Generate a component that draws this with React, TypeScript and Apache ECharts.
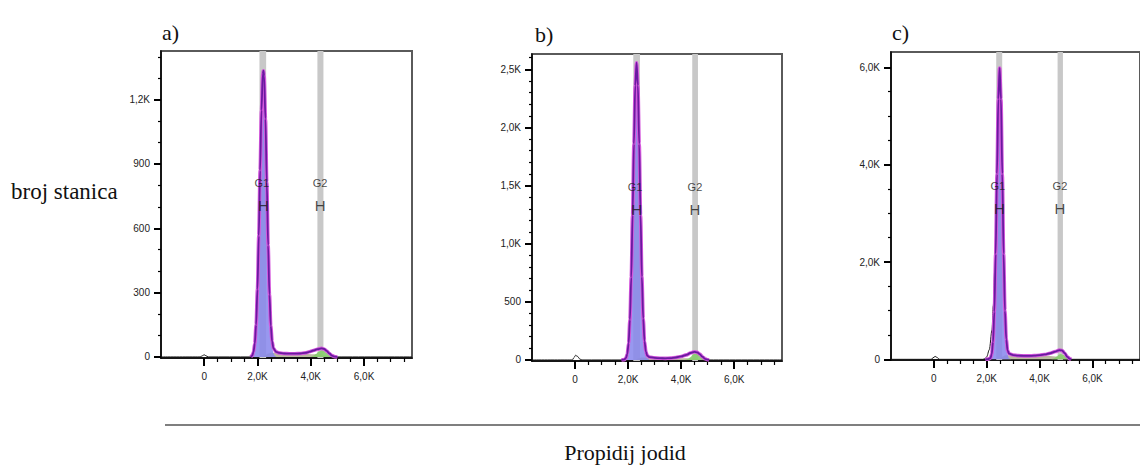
import React, { useEffect, useRef } from "react";
import * as echarts from "echarts";

const SANS = '"Liberation Sans", Arial, sans-serif';
const SERIF = '"Liberation Serif", "Times New Roman", serif';

// ---- shared x axis (propidium iodide) ----
const xMin = -1620;
const xMax = 7800;
const xTicks = [0, 2000, 4000, 6000];
const xTickLabels = ["0", "2,0K", "4,0K", "6,0K"];
const xMinorTicks = [500, 1000, 1500, 2500, 3000, 3500, 4500, 5000, 5500, 6500, 7000, 7500];

// ---- panel a ----
const aYTicks = [0, 300, 600, 900, 1200];
const aYTickLabels = ["0", "300", "600", "900", "1,2K"];
const aYMinorTicks = [100, 200, 400, 500, 700, 800, 1000, 1100, 1300, 1400];
const aFit = [[1750, 0], [1800, 6], [1850, 22], [1900, 62], [1950, 150], [2000, 315], [2050, 565], [2100, 870], [2150, 1150], [2200, 1320], [2225, 1335], [2250, 1310], [2300, 1110], [2350, 815], [2400, 520], [2450, 290], [2500, 145], [2550, 72], [2600, 40], [2700, 24], [2800, 19], [3000, 16], [3200, 15], [3400, 15], [3600, 16], [3800, 19], [3950, 24], [4100, 30], [4250, 36], [4400, 40], [4500, 37], [4600, 28], [4700, 16], [4800, 6], [4900, 1], [5000, 0]];
const aRawLeft = [[-1620, 0], [-150, 0], [-60, 6], [0, 10], [60, 6], [150, 0]];
const aRawRight = [[7800, 0]];
const aG1 = [[1750, 0], [1800, 6], [1850, 22], [1900, 62], [1950, 150], [2000, 315], [2050, 565], [2100, 870], [2150, 1150], [2200, 1320], [2225, 1335], [2250, 1310], [2300, 1105], [2350, 805], [2400, 505], [2450, 270], [2500, 125], [2550, 52], [2600, 18], [2650, 5], [2700, 0]];
const aS = [[2200, 0], [2300, 8], [2400, 16], [2500, 20], [2700, 19], [3000, 16], [3400, 14], [3800, 14], [4200, 12], [4500, 8], [4700, 3], [4800, 0]];
const aG2 = [[4000, 0], [4100, 6], [4200, 14], [4300, 24], [4400, 31], [4500, 28], [4600, 19], [4700, 9], [4800, 3], [4900, 0]];
const aBands = [[2075, 2326], [4250, 4476]];
const aGateTextX = [2165, 4353];
const aGateHX = [2225, 4353];
const aGateTextY = 812;
const aGateHY = 708;

// ---- panel b ----
const bYTicks = [0, 500, 1000, 1500, 2000, 2500];
const bYTickLabels = ["0", "500", "1,0K", "1,5K", "2,0K", "2,5K"];
const bYMinorTicks = [100, 200, 300, 400, 600, 700, 800, 900, 1100, 1200, 1300, 1400, 1600, 1700, 1800, 1900, 2100, 2200, 2300, 2400, 2600];
const bFit = [[1750, 0], [1850, 3], [1920, 15], [1970, 51], [2020, 143], [2070, 346], [2120, 711], [2170, 1245], [2220, 1857], [2270, 2360], [2320, 2557], [2370, 2360], [2420, 1857], [2470, 1245], [2520, 715], [2570, 355], [2620, 160], [2670, 72], [2720, 38], [2800, 25], [3000, 18], [3200, 15], [3400, 14], [3600, 16], [3800, 21], [4000, 30], [4200, 44], [4350, 60], [4500, 70], [4600, 66], [4700, 50], [4800, 28], [4900, 10], [5000, 2], [5050, 0]];
const bRawLeft = [[-1620, 0], [-100, 0], [-40, 20], [20, 40], [100, 30], [180, 8], [260, 0]];
const bRawRight = [[7800, 0]];
const bG1 = [[1800, 0], [1850, 3], [1920, 15], [1970, 51], [2020, 143], [2070, 346], [2120, 711], [2170, 1245], [2220, 1857], [2270, 2360], [2320, 2557], [2370, 2360], [2420, 1857], [2470, 1245], [2520, 711], [2570, 346], [2620, 143], [2670, 51], [2720, 15], [2800, 0]];
const bS = [[2300, 0], [2400, 14], [2500, 22], [2700, 21], [3000, 17], [3400, 14], [3800, 15], [4200, 15], [4500, 11], [4800, 4], [4950, 0]];
const bG2 = [[4150, 0], [4250, 8], [4350, 24], [4450, 46], [4520, 57], [4600, 53], [4700, 38], [4800, 20], [4900, 7], [5000, 0]];
const bBands = [[2196, 2448], [4418, 4633]];
const bGateTextX = [2260, 4520];
const bGateHX = [2324, 4520];
const bGateTextY = 1490;
const bGateHY = 1296;

// ---- panel c ----
const cYTicks = [0, 2000, 4000, 6000];
const cYTickLabels = ["0", "2,0K", "4,0K", "6,0K"];
const cYMinorTicks = [500, 1000, 1500, 2500, 3000, 3500, 4500, 5000, 5500];
const cFit = [[1950, 0], [2050, 5], [2140, 23], [2190, 102], [2240, 353], [2290, 977], [2340, 2164], [2390, 3809], [2440, 5347], [2490, 5988], [2540, 5347], [2590, 3809], [2640, 2164], [2690, 1000], [2740, 410], [2790, 180], [2850, 115], [3000, 88], [3200, 76], [3400, 70], [3600, 70], [3800, 75], [4000, 85], [4200, 100], [4400, 125], [4600, 160], [4750, 190], [4850, 182], [4950, 125], [5050, 52], [5150, 10], [5200, 0]];
const cRawLeft = [[-1620, 0], [-100, 0], [-30, 30], [50, 60], [130, 35], [220, 0], [1850, 0], [1920, 10], [2000, 50], [2100, 200], [2200, 600], [2250, 1100], [2300, 1800], [2350, 2800], [2400, 4000], [2450, 5200]];
const cRawRight = [[7800, 0]];
const cG1 = [[2050, 0], [2140, 23], [2190, 102], [2240, 353], [2290, 977], [2340, 2164], [2390, 3809], [2440, 5347], [2490, 5988], [2540, 5347], [2590, 3809], [2640, 2164], [2690, 977], [2740, 353], [2790, 102], [2840, 23], [2930, 0]];
const cS = [[2500, 0], [2600, 55], [2700, 85], [3000, 80], [3400, 68], [3800, 70], [4200, 72], [4600, 60], [4900, 30], [5100, 0]];
const cG2 = [[4450, 0], [4550, 20], [4650, 58], [4750, 98], [4810, 110], [4900, 92], [5000, 48], [5100, 14], [5200, 0]];
const cBands = [[2361, 2587], [4682, 4885]];
const cGateTextX = [2422, 4772];
const cGateHX = [2486, 4772];
const cGateTextY = 3572;
const cGateHY = 3107;

const gateNames = ["G1", "G2"];
const panelLetters = ["a)", "b)", "c)"];

const panels = [
  {
    grid: { left: 161, top: 51, width: 251, height: 307 }, yMin: -5, yMax: 1427,
    yTicks: aYTicks, yLabels: aYTickLabels, yMinor: aYMinorTicks,
    fit: aFit, raw: [...aRawLeft, ...aFit, ...aRawRight], g1: aG1, s: aS, g2: aG2, bands: aBands,
    textX: aGateTextX, hX: aGateHX, textY: aGateTextY, hY: aGateHY, letter: [162, 32],
  },
  {
    grid: { left: 532, top: 54, width: 250, height: 307 }, yMin: -9, yMax: 2632,
    yTicks: bYTicks, yLabels: bYTickLabels, yMinor: bYMinorTicks,
    fit: bFit, raw: [...bRawLeft, ...bFit, ...bRawRight], g1: bG1, s: bS, g2: bG2, bands: bBands,
    textX: bGateTextX, hX: bGateHX, textY: bGateTextY, hY: bGateHY, letter: [535, 34],
  },
  {
    grid: { left: 891, top: 52, width: 250, height: 308 }, yMin: -14, yMax: 6317,
    yTicks: cYTicks, yLabels: cYTickLabels, yMinor: cYMinorTicks,
    fit: cFit, raw: [...cRawLeft, ...cFit.filter((p) => p[0] >= 2490), ...cRawRight], g1: cG1, s: cS, g2: cG2, bands: cBands,
    textX: cGateTextX, hX: cGateHX, textY: cGateTextY, hY: cGateHY, letter: [892, 32],
  },
];

function buildOption() {
  const grid: any[] = [];
  const xAxis: any[] = [];
  const yAxis: any[] = [];
  const series: any[] = [];
  const graphic: any[] = [];

  panels.forEach((p, i) => {
    grid.push({ ...p.grid, show: true, borderColor: "#5a5a5a", borderWidth: 2, backgroundColor: "#fff" });
    xAxis.push({
      gridIndex: i, type: "value", min: xMin, max: xMax, position: "bottom",
      axisLine: { show: true, onZero: false, lineStyle: { color: "#000", width: 1.5 } },
      axisTick: { show: true, customValues: xTicks, length: 8, lineStyle: { color: "#000", width: 2 } },
      axisLabel: {
        show: true, customValues: xTicks, margin: 13, fontSize: 10, fontFamily: SANS, color: "#222",
        formatter: (v: number) => xTickLabels[xTicks.indexOf(v)] ?? "",
      },
      splitLine: { show: false },
    });
    xAxis.push({
      gridIndex: i, type: "value", min: xMin, max: xMax, position: "bottom",
      axisLine: { show: false, onZero: false },
      axisTick: { show: true, customValues: xMinorTicks, length: 4, lineStyle: { color: "#000", width: 1.2 } },
      axisLabel: { show: false },
      splitLine: { show: false },
    });
    yAxis.push({
      gridIndex: i, type: "value", min: p.yMin, max: p.yMax, position: "left",
      axisLine: { show: true, onZero: false, lineStyle: { color: "#000", width: 1.5 } },
      axisTick: { show: true, customValues: p.yTicks, length: 7, lineStyle: { color: "#000", width: 2 } },
      axisLabel: {
        show: true, customValues: p.yTicks, margin: 11, fontSize: 10, fontFamily: SANS, color: "#222",
        formatter: (v: number) => p.yLabels[p.yTicks.indexOf(v)] ?? "",
      },
      splitLine: { show: false },
    });
    yAxis.push({
      gridIndex: i, type: "value", min: p.yMin, max: p.yMax, position: "left",
      axisLine: { show: false, onZero: false },
      axisTick: { show: true, customValues: p.yMinor, length: 3, lineStyle: { color: "#000", width: 1.2 } },
      axisLabel: { show: false },
      splitLine: { show: false },
    });

    const xi = i * 2;
    const yi = i * 2;
    const common = { xAxisIndex: xi, yAxisIndex: yi, showSymbol: false, silent: true, smooth: 0.3, smoothMonotone: "x" };

    series.push({
      ...common, type: "line", data: p.s, z: 1,
      lineStyle: { width: 0 }, areaStyle: { color: "#b4b496", opacity: 0.9 },
      markArea: {
        silent: true, itemStyle: { color: "#c8c8c8", opacity: 1 },
        data: p.bands.map((b) => [{ xAxis: b[0] }, { xAxis: b[1] }]),
      },
    });
    series.push({ ...common, type: "line", data: p.g1, z: 2, lineStyle: { width: 0 }, areaStyle: { color: "#8686ec", opacity: 0.85 } });
    series.push({ ...common, type: "line", data: p.g2, z: 2, lineStyle: { width: 0 }, areaStyle: { color: "#86cc6c", opacity: 0.9 } });
    series.push({ ...common, type: "line", data: p.raw, z: 3, lineStyle: { color: "#1a1a1a", width: 1 } });
    series.push({ ...common, type: "line", data: p.fit, z: 4, lineStyle: { color: "#d458dc", width: 3.6 } });
    series.push({ ...common, type: "line", data: p.fit, z: 5, lineStyle: { color: "#6a1aa0", width: 1.8 } });
    series.push({
      type: "scatter", xAxisIndex: xi, yAxisIndex: yi, silent: true, z: 10,
      symbolSize: 1, itemStyle: { color: "rgba(0,0,0,0)" },
      data: [
        ...gateNames.map((n, k) => ({ name: n, value: [p.textX[k], p.textY], label: { fontSize: 11 } })),
        ...gateNames.map((n, k) => ({ name: "H", value: [p.hX[k], p.hY], label: { fontSize: 15 } })),
      ],
      label: { show: true, position: "inside", formatter: "{b}", color: "#1a1a1a", fontFamily: SANS },
    });

    graphic.push({
      type: "text", x: p.letter[0], y: p.letter[1],
      style: { text: panelLetters[i], font: `22px ${SERIF}`, fill: "#111", textVerticalAlign: "middle" },
    });
  });

  graphic.push({
    type: "text", x: 11, y: 191,
    style: { text: "broj stanica", font: `23px ${SERIF}`, fill: "#111", textVerticalAlign: "middle" },
  });
  graphic.push({
    type: "line", shape: { x1: 165, y1: 425, x2: 1140, y2: 425 },
    style: { stroke: "#555", lineWidth: 1.5 },
  });
  graphic.push({
    type: "text", x: 625, y: 452,
    style: { text: "Propidij jodid", font: `22px ${SERIF}`, fill: "#111", textAlign: "center", textVerticalAlign: "middle" },
  });

  return { animation: false, backgroundColor: "#fff", grid, xAxis, yAxis, series, graphic };
}

export default function App() {
  const ref = useRef<HTMLDivElement>(null);
  useEffect(() => {
    if (!ref.current) return;
    const chart = echarts.init(ref.current, undefined, { renderer: "svg" });
    chart.setOption(buildOption() as any);
    return () => chart.dispose();
  }, []);
  return <div ref={ref} style={{ position: "fixed", left: 0, top: 0, width: 1140, height: 468 }} />;
}
